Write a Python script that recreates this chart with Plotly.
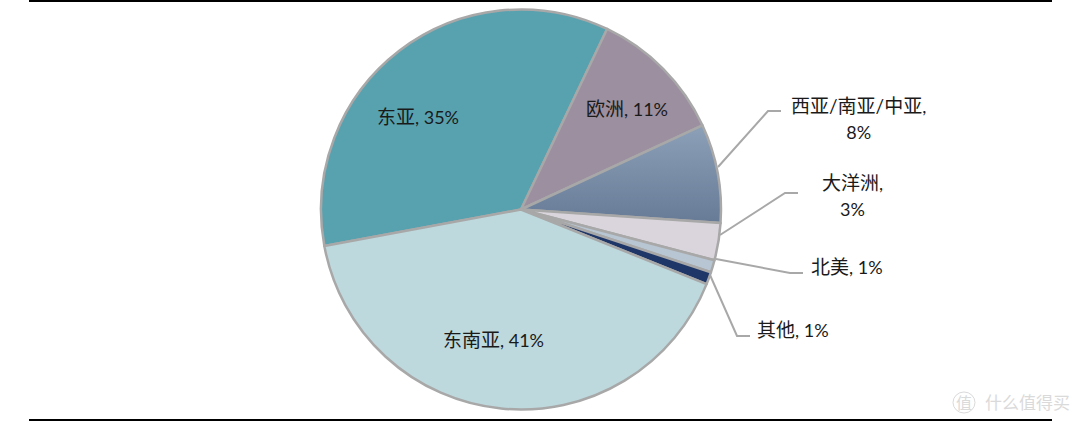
import plotly.graph_objects as go

W, H = 1080, 424

regions = ["东亚", "欧洲", "西亚/南亚/中亚", "大洋洲", "北美", "其他", "东南亚"]
shares = [35, 11, 8, 3, 1, 1, 41]
colors = ["#58a2b0", "#9c8fa0", "#7b8fa9", "#dad5dc", "#b8c5d2", "#1f3768", "#bdd9de"]

# Label centres (px) and whether the percentage wraps onto a second line
label_x = [418, 627, 858, 852, 847, 793, 493]
label_y = [117, 109, 118, 195, 266, 329, 339]
label_wrap = [False, False, True, True, False, False, False]

# Leader lines for the labels set outside the pie (px)
leaders = [
    [(718, 167), (768, 111), (781, 111)],
    [(720, 235), (785, 193), (798, 193)],
    [(716, 259), (790, 273), (803, 273)],
    [(710, 275), (737, 336), (750, 336)],
]

FONT = "Lato, 'Noto Sans CJK SC', sans-serif"
MARK_COLOR = "#dadada"


def px(x):
    return x / W


def py(y):
    return 1 - y / H


fig = go.Figure(
    go.Pie(
        labels=regions,
        values=shares,
        sort=False,
        direction="clockwise",
        rotation=259.5,
        textinfo="none",
        hoverinfo="label+percent",
        marker=dict(colors=colors, line=dict(color="#a8a8a8", width=2.5)),
        domain=dict(x=[px(321), px(721)], y=[py(409.5), py(9.5)]),
        showlegend=False,
    )
)

annotations = []
for name, share, x, y, wrap in zip(regions, shares, label_x, label_y, label_wrap):
    sep = ",<br>" if wrap else ", "
    annotations.append(
        dict(
            text=(
                f"<span style='font-size:19px'>{name}</span>"
                f"<span style='font-size:18px'>{sep}{share}%</span>"
            ),
            x=px(x), y=py(y), xref="paper", yref="paper",
            xanchor="center", yanchor="middle", showarrow=False,
            font=dict(family=FONT, size=20, color="#1a1a1a"),
            align="center",
        )
    )

# Site mark in the lower right corner
annotations.append(
    dict(text="值", x=px(964), y=py(402), xref="paper", yref="paper",
         xanchor="center", yanchor="middle", showarrow=False,
         font=dict(family=FONT, size=16, color=MARK_COLOR))
)
annotations.append(
    dict(text="什么值得买", x=px(1027), y=py(402), xref="paper", yref="paper",
         xanchor="center", yanchor="middle", showarrow=False,
         font=dict(family=FONT, size=17, color=MARK_COLOR))
)

shapes = []
for pts in leaders:
    path = "M " + " L ".join(f"{px(x)} {py(y)}" for x, y in pts)
    shapes.append(dict(type="path", path=path, xref="paper", yref="paper",
                       line=dict(color="#a8a8a8", width=2)))
for y in (1, 420):
    shapes.append(dict(type="line", xref="paper", yref="paper",
                       x0=px(29), x1=px(1052), y0=py(y), y1=py(y),
                       line=dict(color="#000000", width=2)))
shapes.append(dict(type="circle", xref="paper", yref="paper",
                   x0=px(953), x1=px(975), y0=py(413), y1=py(392),
                   line=dict(color=MARK_COLOR, width=1)))

fig.update_layout(
    width=W, height=H,
    margin=dict(l=0, r=0, t=0, b=0),
    paper_bgcolor="#ffffff",
    annotations=annotations,
    shapes=shapes,
)

# Vertical gradient on the 西亚/南亚/中亚 slice
gradient = """
var gd = document.getElementById('{plot_id}');
var svg = gd.querySelector('svg.main-svg');
var ns = 'http://www.w3.org/2000/svg';
var defs = svg.querySelector('defs');
var g = document.createElementNS(ns, 'linearGradient');
g.setAttribute('id', 'sliceFade');
g.setAttribute('x1', '0'); g.setAttribute('y1', '0');
g.setAttribute('x2', '0'); g.setAttribute('y2', '1');
[['0', '#8ca0b8'], ['1', '#677b97']].forEach(function (s) {
  var st = document.createElementNS(ns, 'stop');
  st.setAttribute('offset', s[0]); st.setAttribute('stop-color', s[1]);
  g.appendChild(st);
});
defs.appendChild(g);
var slices = gd.querySelectorAll('.slice path.surface');
if (slices[2]) slices[2].style.fill = 'url(#sliceFade)';
"""

fig.write_html("out.html", post_script=gradient)
